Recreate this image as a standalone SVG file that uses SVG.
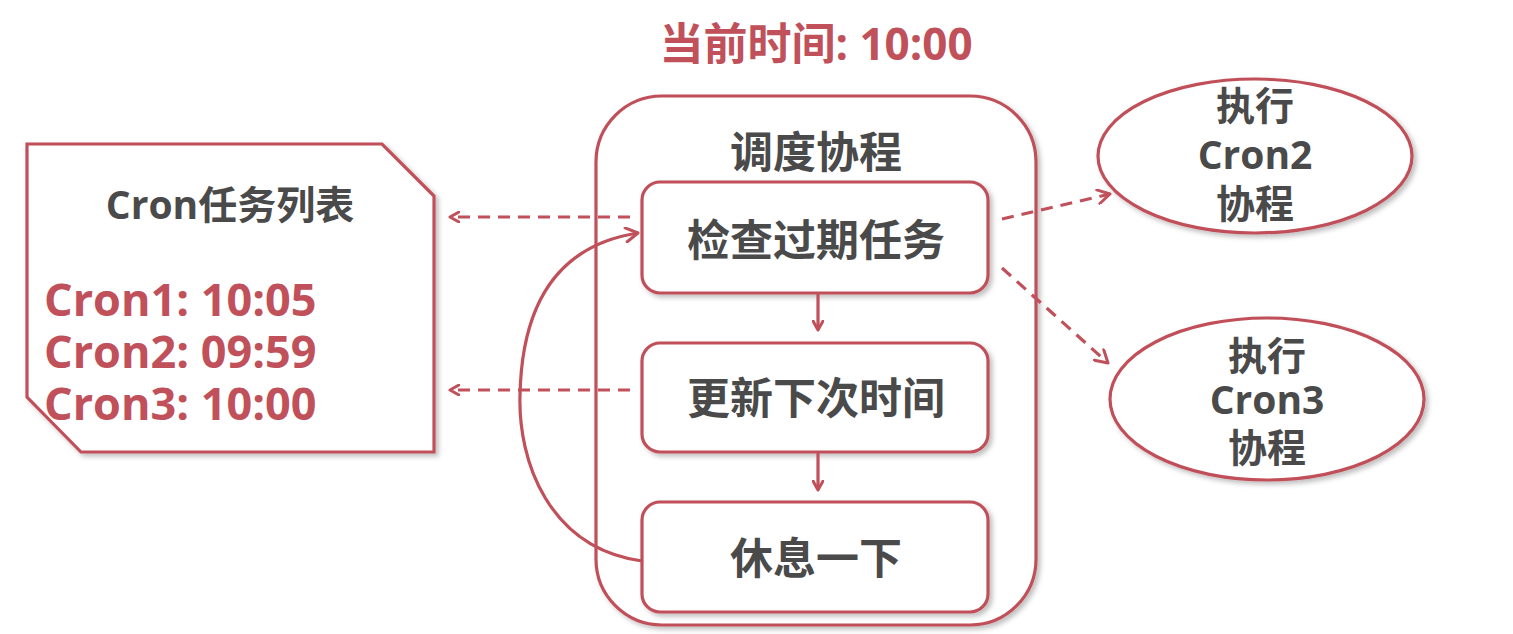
<svg xmlns="http://www.w3.org/2000/svg" width="1513" height="634" viewBox="0 0 1513 634">
<defs>
<style>
.s{fill:#fff;stroke:#c0505a;stroke-width:3.2}
.c{fill:none;stroke:#c0505a;stroke-width:3.2}
.d{fill:none;stroke:#c0505a;stroke-width:3.2;stroke-dasharray:12 8}
.t{font-family:"Open Sans","Noto Sans CJK SC",sans-serif;font-weight:bold;fill:#4a4a4a;text-anchor:middle}
.r{font-family:"Open Sans","Noto Sans CJK SC",sans-serif;font-weight:bold;fill:#c0505a}
</style>
<filter id="sh" x="-10%" y="-10%" width="130%" height="130%"><feDropShadow dx="3" dy="3" stdDeviation="2.5" flood-color="#000" flood-opacity="0.25"/></filter>
<marker id="a" viewBox="0 0 12 12" refX="10" refY="6" markerWidth="12" markerHeight="12" markerUnits="userSpaceOnUse" orient="auto"><path d="M1,1 L10,6 L1,11" fill="none" stroke="#c0505a" stroke-width="3" stroke-linecap="round" stroke-linejoin="round"/></marker>
<marker id="b" viewBox="0 0 16 16" refX="14" refY="8" markerWidth="16" markerHeight="16" markerUnits="userSpaceOnUse" orient="auto"><path d="M2,1 L14,8 L2,15" fill="none" stroke="#c0505a" stroke-width="3" stroke-linecap="round" stroke-linejoin="round"/></marker>
</defs>
<rect width="1513" height="634" fill="#fff"/>
<g id="title"><text class="r" x="816" y="60" font-size="44" text-anchor="middle">当前时间: 10:00</text></g>
<g id="cronlist">
<polygon class="s" filter="url(#sh)" points="27,144 382,144 434,196 434,452 81,452 27,397"/>
<text class="t" x="230" y="219" font-size="39">Cron任务列表</text>
<text class="r" x="44" y="316" font-size="45">Cron1: 10:05</text>
<text class="r" x="44" y="368" font-size="45">Cron2: 09:59</text>
<text class="r" x="44" y="420" font-size="45">Cron3: 10:00</text>
</g>
<g id="scheduler">
<rect class="s" filter="url(#sh)" x="596" y="96" width="440" height="529" rx="66"/>
<text class="t" x="816" y="168" font-size="43">调度协程</text>
</g>
<g id="check">
<rect class="s" filter="url(#sh)" x="642" y="182" width="346" height="111" rx="18"/>
<text class="t" x="816" y="256" font-size="43">检查过期任务</text>
</g>
<g id="update">
<rect class="s" filter="url(#sh)" x="642" y="343" width="346" height="109" rx="18"/>
<text class="t" x="816" y="414" font-size="43">更新下次时间</text>
</g>
<g id="sleep">
<rect class="s" filter="url(#sh)" x="642" y="502" width="346" height="110" rx="18"/>
<text class="t" x="816" y="574" font-size="43">休息一下</text>
</g>
<g id="exec2">
<ellipse class="s" filter="url(#sh)" cx="1255" cy="156" rx="157" ry="77"/>
<text class="t" x="1255" y="120" font-size="39">执行</text>
<text class="t" x="1255" y="169" font-size="39">Cron2</text>
<text class="t" x="1255" y="218" font-size="39">协程</text>
</g>
<g id="exec3">
<ellipse class="s" filter="url(#sh)" cx="1267" cy="399" rx="157" ry="81"/>
<text class="t" x="1267" y="370" font-size="39">执行</text>
<text class="t" x="1267" y="414" font-size="39">Cron3</text>
<text class="t" x="1267" y="462" font-size="39">协程</text>
</g>
<g id="connectors">
<line class="c" x1="818" y1="293" x2="818" y2="330" marker-end="url(#a)"/>
<line class="c" x1="818" y1="452" x2="818" y2="490" marker-end="url(#a)"/>
<line class="d" x1="630" y1="217" x2="450" y2="217" marker-end="url(#a)"/>
<line class="d" x1="630" y1="390" x2="450" y2="390" marker-end="url(#a)"/>
<path class="c" d="M642,561 C548,548 518,460 520,395 C522,300 560,245 638,233" marker-end="url(#b)"/>
<line class="d" x1="1002" y1="219" x2="1110" y2="194" marker-end="url(#b)"/>
<line class="d" x1="1002" y1="268" x2="1108" y2="363" marker-end="url(#b)"/>
</g>
</svg>
